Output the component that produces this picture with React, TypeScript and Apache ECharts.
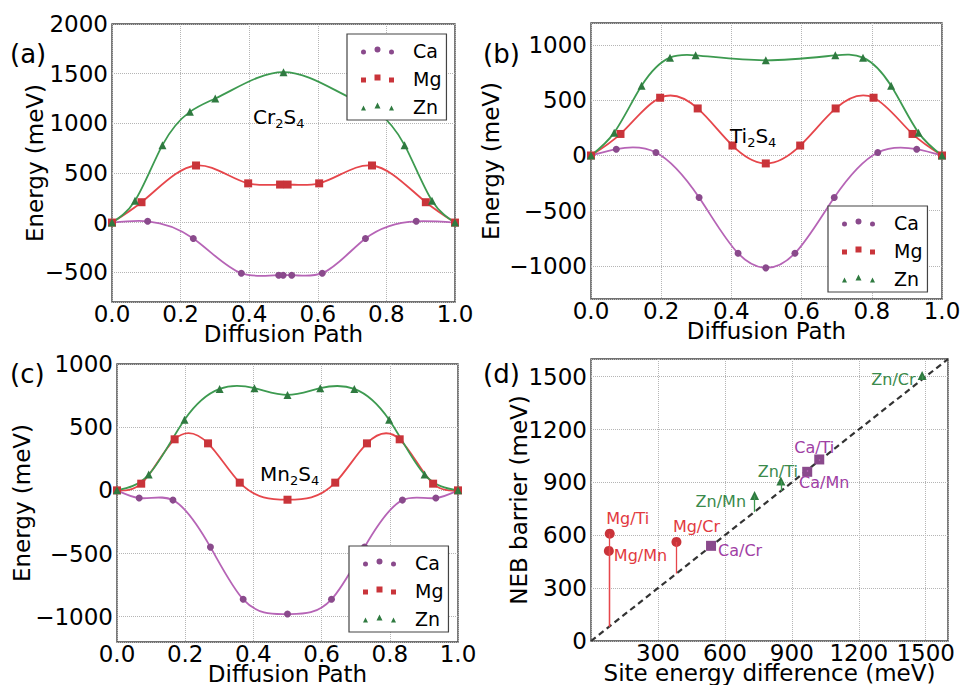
import React, { useEffect, useRef } from 'react';
import * as echarts from 'echarts';

const FONT = 'DejaVu Sans';

// ---------- Panel (a): Cr2S4 ----------
const aCaX = [0, 0.104, 0.237, 0.377, 0.486, 0.499, 0.524, 0.613, 0.739, 0.887, 1.0];
const aCaY = [0, 13, -160, -510, -530, -530, -530, -510, -160, 13, 0];
const aMgX = [0, 0.086, 0.245, 0.397, 0.49, 0.512, 0.604, 0.758, 0.915, 1.0];
const aMgY = [0, 205, 575, 395, 383, 383, 395, 575, 205, 0];
const aZnX = [0, 0.067, 0.147, 0.227, 0.301, 0.5, 0.699, 0.773, 0.853, 0.933, 1.0];
const aZnY = [0, 220, 780, 1115, 1250, 1515, 1250, 1115, 780, 220, 0];

// ---------- Panel (b): Ti2S4 ----------
const bCaX = [0, 0.072, 0.185, 0.308, 0.419, 0.498, 0.581, 0.693, 0.817, 0.928, 1.0];
const bCaY = [0, 57, 27, -381, -886, -1018, -886, -381, 27, 57, 0];
const bMgX = [0, 0.084, 0.197, 0.304, 0.403, 0.498, 0.596, 0.697, 0.805, 0.916, 1.0];
const bMgY = [0, 195, 523, 426, 90, -72, 90, 426, 523, 195, 0];
const bZnX = [0, 0.066, 0.144, 0.225, 0.298, 0.498, 0.696, 0.775, 0.855, 0.933, 1.0];
const bZnY = [0, 207, 631, 886, 907, 862, 907, 886, 631, 207, 0];

// ---------- Panel (c): Mn2S4 ----------
const cCaX = [0, 0.065, 0.164, 0.274, 0.37, 0.5, 0.629, 0.726, 0.837, 0.935, 1.0];
const cCaY = [0, -61, -77, -449, -862, -979, -862, -449, -77, -61, 0];
const cMgX = [0, 0.071, 0.169, 0.267, 0.36, 0.5, 0.64, 0.733, 0.829, 0.927, 1.0];
const cMgY = [0, 53, 404, 372, 61, -74, 61, 372, 404, 53, 0];
const cZnX = [0, 0.093, 0.198, 0.301, 0.403, 0.5, 0.596, 0.696, 0.798, 0.902, 1.0];
const cZnY = [0, 125, 559, 803, 809, 755, 809, 803, 559, 125, 0];

// ---------- Panel (d): NEB barrier vs site energy difference ----------
const dMgNames = ['Mg/Ti', 'Mg/Mn', 'Mg/Cr'];
const dMgX = [84, 80, 383];
const dMgY = [609, 511, 562];
const dZnNames = ['Zn/Mn', 'Zn/Ti', 'Zn/Cr'];
const dZnX = [733, 851, 1484];
const dZnY = [826, 908, 1506];
const dCaNames = ['Ca/Ti', 'Ca/Mn', 'Ca/Cr'];
const dCaX = [1023, 969, 538];
const dCaY = [1030, 960, 540];
const dDiagonal = [[0, 0], [1600, 1600]];

const ELEMENTS = ['Ca', 'Mg', 'Zn'];

// ---------- styling ----------
const COL: Record<string, { mark: string; line: string; text: string }> = {
  Ca: { mark: '#8a4a8c', line: '#b664b6', text: '#a040a4' },
  Mg: { mark: '#c9343a', line: '#e6464b', text: '#e23a3f' },
  Zn: { mark: '#2f7a40', line: '#3d9a50', text: '#3a8a4c' },
};
// panels (a)-(c)
const SYMBOL: Record<string, string> = { Ca: 'circle', Mg: 'rect', Zn: 'triangle' };
const SYMSIZE: Record<string, number> = { Ca: 7, Mg: 8, Zn: 8 };
// panel (d)
const D_SYMBOL: Record<string, string> = { Ca: 'rect', Mg: 'circle', Zn: 'triangle' };
const D_SYMSIZE: Record<string, number> = { Ca: 10, Mg: 10, Zn: 9 };

const ICON: Record<string, string> = {
  Ca: 'path://M0,5.5a2.5,2.5 0 1,0 5,0a2.5,2.5 0 1,0 -5,0Z M13.5,3a3,3 0 1,0 6,0a3,3 0 1,0 -6,0Z M28,5.5a2.5,2.5 0 1,0 5,0a2.5,2.5 0 1,0 -5,0Z',
  Mg: 'path://M0,3L5,3L5,8L0,8Z M13.5,0L19.5,0L19.5,6L13.5,6Z M28,3L33,3L33,8L28,8Z',
  Zn: 'path://M0,8L5,8L2.5,3Z M13.5,6L19.5,6L16.5,0Z M28,8L33,8L30.5,3Z',
};

// label placements for panel (d)
const D_LABEL: Record<string, { position: string; offset: number[] }> = {
  'Mg/Ti': { position: 'top', offset: [18, 2] },
  'Mg/Mn': { position: 'right', offset: [-4, 5] },
  'Mg/Cr': { position: 'top', offset: [20, 2] },
  'Ca/Cr': { position: 'right', offset: [-2, 5] },
  'Zn/Mn': { position: 'left', offset: [0, 6] },
  'Zn/Ti': { position: 'top', offset: [-3, 7] },
  'Ca/Ti': { position: 'top', offset: [-5, 5] },
  'Ca/Mn': { position: 'bottom', offset: [17, -6] },
  'Zn/Cr': { position: 'left', offset: [2, 4] },
};

const zip = (xs: number[], ys: number[]) => xs.map((x, i) => [x, ys[i]]);
const minus = (v: number) => (v < 0 ? '\u2212' + Math.abs(v) : String(v));

// Slopes of a natural cubic spline through the given knots (used only to draw
// the curve between the data points as cubic Bezier segments).
function splineSlopes(xs: number[], ys: number[]): number[] {
  const n = xs.length;
  const h: number[] = [];
  for (let i = 0; i < n - 1; i++) h.push(xs[i + 1] - xs[i]);
  const M = new Array(n).fill(0);
  if (n > 2) {
    const a: number[] = [], b: number[] = [], c: number[] = [], d: number[] = [];
    for (let i = 1; i < n - 1; i++) {
      a.push(h[i - 1]);
      b.push(2 * (h[i - 1] + h[i]));
      c.push(h[i]);
      d.push(6 * ((ys[i + 1] - ys[i]) / h[i] - (ys[i] - ys[i - 1]) / h[i - 1]));
    }
    const m = b.length;
    for (let i = 1; i < m; i++) {
      const w = a[i] / b[i - 1];
      b[i] -= w * c[i - 1];
      d[i] -= w * d[i - 1];
    }
    const sol = new Array(m).fill(0);
    sol[m - 1] = d[m - 1] / b[m - 1];
    for (let i = m - 2; i >= 0; i--) sol[i] = (d[i] - c[i] * sol[i + 1]) / b[i];
    for (let i = 0; i < m; i++) M[i + 1] = sol[i];
  }
  const s: number[] = [];
  for (let i = 0; i < n - 1; i++) {
    s.push((ys[i + 1] - ys[i]) / h[i] - (h[i] * (2 * M[i] + M[i + 1])) / 6);
  }
  const k = n - 2;
  s.push((ys[k + 1] - ys[k]) / h[k] + (h[k] * (M[k] + 2 * M[k + 1])) / 6);
  return s;
}

const tickText = { fontFamily: FONT, fontSize: 23, color: '#000' };
const xTickText = { ...tickText, lineHeight: 18 };
const nameText = { ...tickText, lineHeight: 20 };
const yNameText = { ...tickText, lineHeight: 18 };
const splitLine = { show: true, lineStyle: { color: '#b5b5b5', type: 'dotted', width: 1 } };

function pathXAxis(gridIndex: number, nameGap: number) {
  return {
    type: 'value', gridIndex, min: 0, max: 1, interval: 0.2,
    name: 'Diffusion Path', nameLocation: 'middle', nameGap, nameMoveOverlap: false,
    nameTextStyle: { ...nameText },
    axisLine: { show: false }, axisTick: { show: false },
    axisLabel: { ...xTickText, margin: 3, formatter: (v: number) => v.toFixed(1) },
    splitLine,
  };
}

function energyYAxis(gridIndex: number, min: number, max: number, nameGap: number, showMin: boolean, showMax: boolean) {
  return {
    type: 'value', gridIndex, min, max, splitNumber: 5,
    name: 'Energy (meV)', nameLocation: 'middle', nameGap, nameMoveOverlap: false,
    nameTextStyle: { ...yNameText },
    axisLine: { show: false }, axisTick: { show: false },
    axisLabel: { ...tickText, margin: 4, showMinLabel: showMin, showMaxLabel: showMax, formatter: minus },
    splitLine,
  };
}

function curveSeries(idx: number, el: string, xs: number[], ys: number[]) {
  const slopes = splineSlopes(xs, ys);
  return {
    type: 'custom', name: el + ' curve ' + idx, xAxisIndex: idx, yAxisIndex: idx,
    coordinateSystem: 'cartesian2d', data: zip(xs, ys), encode: { x: 0, y: 1 },
    silent: true, z: 2,
    renderItem: (params: any, api: any) => {
      const i = params.dataIndex;
      if (i >= xs.length - 1) return null;
      const x0 = api.value(0), y0 = api.value(1);
      const x1 = xs[i + 1], y1 = ys[i + 1];
      const hh = (x1 - x0) / 3;
      const p0 = api.coord([x0, y0]);
      const p1 = api.coord([x1, y1]);
      const c0 = api.coord([x0 + hh, y0 + hh * slopes[i]]);
      const c1 = api.coord([x1 - hh, y1 - hh * slopes[i + 1]]);
      return {
        type: 'bezierCurve',
        shape: { x1: p0[0], y1: p0[1], x2: p1[0], y2: p1[1], cpx1: c0[0], cpy1: c0[1], cpx2: c1[0], cpy2: c1[1] },
        style: { stroke: COL[el].line, lineWidth: 1.8, fill: 'none' },
      };
    },
  };
}

function pathSeries(idx: number, data: Record<string, [number[], number[]]>) {
  const out: any[] = [];
  ELEMENTS.forEach((el) => {
    const [xs, ys] = data[el];
    out.push(curveSeries(idx, el, xs, ys));
  });
  ELEMENTS.forEach((el) => {
    const [xs, ys] = data[el];
    out.push({
      type: 'scatter', name: el, xAxisIndex: idx, yAxisIndex: idx,
      data: zip(xs, ys), symbol: SYMBOL[el], symbolSize: SYMSIZE[el],
      itemStyle: { color: COL[el].mark, opacity: 1 }, z: 3,
    });
  });
  return out;
}

function dSeries(el: string, names: string[], xs: number[], ys: number[]) {
  return {
    type: 'scatter', name: el + ' NEB', xAxisIndex: 3, yAxisIndex: 3,
    symbol: D_SYMBOL[el], symbolSize: D_SYMSIZE[el],
    itemStyle: { color: COL[el].mark, opacity: 1 }, z: 4,
    data: names.map((n, i) => ({
      name: n, value: [xs[i], ys[i]],
      label: {
        show: true, formatter: n, position: D_LABEL[n].position, offset: D_LABEL[n].offset,
        distance: 4, color: COL[el].text, fontFamily: FONT, fontSize: 16,
      },
    })),
    markLine: {
      silent: true, symbol: ['none', 'none'], label: { show: false },
      lineStyle: { color: COL[el].line, width: 1.3, type: 'solid' },
      data: names.map((n, i) => [{ coord: [xs[i], ys[i]] }, { coord: [xs[i], xs[i]] }]),
    },
  };
}

function legend(left: number, top: number) {
  return {
    left, top, orient: 'vertical', itemWidth: 33, itemHeight: 8, itemGap: 7,
    padding: [6, 5, 3, 14], backgroundColor: '#fff', borderColor: '#444', borderWidth: 1.2,
    borderRadius: 0, selectedMode: false,
    textStyle: { fontFamily: FONT, fontSize: 19, color: '#000', lineHeight: 21, padding: [0, 0, 0, 14] },
    data: ELEMENTS.map((el) => ({ name: el, icon: ICON[el] })),
  };
}

function formula(left: number, top: number, a: string, b: string) {
  return {
    type: 'text', left, top, z: 10,
    style: {
      text: `{m|${a}}{s|2}{m|${b}}{s|4}`,
      fill: '#000',
      rich: {
        m: { fontFamily: FONT, fontSize: 20, lineHeight: 26, verticalAlign: 'middle', fill: '#000' },
        s: { fontFamily: FONT, fontSize: 13, lineHeight: 26, verticalAlign: 'bottom', fill: '#000' },
      },
    },
  };
}

function panelLabel(left: number, top: number, t: string) {
  return { type: 'text', left, top, z: 10, style: { text: t, fontFamily: FONT, fontSize: 26, fill: '#000' } };
}

export default function App() {
  const ref = useRef<HTMLDivElement>(null);
  useEffect(() => {
    if (!ref.current) return;
    const chart = echarts.init(ref.current, null, { renderer: 'svg' });
    const gridBase = { show: true, borderColor: '#444', borderWidth: 1.4, backgroundColor: 'transparent', containLabel: false, outerBoundsMode: 'none' };
    const option: any = {
      animation: false,
      backgroundColor: '#fff',
      textStyle: { fontFamily: FONT },
      grid: [
        { ...gridBase, left: 112, top: 24, width: 343, height: 278 },
        { ...gridBase, left: 591, top: 23, width: 351, height: 276 },
        { ...gridBase, left: 117, top: 364, width: 341, height: 278 },
        { ...gridBase, left: 591, top: 359, width: 357, height: 282 },
      ],
      xAxis: [
        pathXAxis(0, 22),
        pathXAxis(1, 22),
        pathXAxis(2, 22),
        {
          type: 'value', gridIndex: 3, min: 0, max: 1600, splitNumber: 5,
          name: 'Site energy difference (meV)', nameLocation: 'middle', nameGap: 22, nameMoveOverlap: false,
          nameTextStyle: { ...nameText },
          axisLine: { show: false }, axisTick: { show: false },
          axisLabel: { ...xTickText, margin: 3, showMinLabel: false, showMaxLabel: false, formatter: (v: number) => String(v) },
          splitLine,
        },
      ],
      yAxis: [
        energyYAxis(0, -800, 2000, 68, false, true),
        energyYAxis(1, -1300, 1200, 91, false, false),
        energyYAxis(2, -1200, 1000, 86, false, true),
        {
          type: 'value', gridIndex: 3, min: 0, max: 1600, splitNumber: 5,
          name: 'NEB barrier (meV)', nameLocation: 'middle', nameGap: 63, nameMoveOverlap: false,
          nameTextStyle: { ...yNameText },
          axisLine: { show: false }, axisTick: { show: false },
          axisLabel: { ...tickText, margin: 4, showMinLabel: true, showMaxLabel: false, formatter: (v: number) => String(v) },
          splitLine,
        },
      ],
      legend: [legend(347, 34), legend(828, 206), legend(349, 546)],
      series: [
        ...pathSeries(0, { Ca: [aCaX, aCaY], Mg: [aMgX, aMgY], Zn: [aZnX, aZnY] }),
        ...pathSeries(1, { Ca: [bCaX, bCaY], Mg: [bMgX, bMgY], Zn: [bZnX, bZnY] }),
        ...pathSeries(2, { Ca: [cCaX, cCaY], Mg: [cMgX, cMgY], Zn: [cZnX, cZnY] }),
        {
          type: 'line', name: 'diagonal', xAxisIndex: 3, yAxisIndex: 3, data: dDiagonal,
          showSymbol: false, symbol: 'none', silent: true, z: 2,
          lineStyle: { color: '#333', width: 2.2, type: [6, 4] },
        },
        dSeries('Mg', dMgNames, dMgX, dMgY),
        dSeries('Zn', dZnNames, dZnX, dZnY),
        dSeries('Ca', dCaNames, dCaX, dCaY),
      ],
      graphic: [
        panelLabel(10, 41, '(a)'),
        panelLabel(483, 41, '(b)'),
        panelLabel(10, 361, '(c)'),
        panelLabel(483, 361, '(d)'),
        formula(253, 107, 'Cr', 'S'),
        formula(730, 126, 'Ti', 'S'),
        formula(260, 464, 'Mn', 'S'),
      ],
    };
    chart.setOption(option);
    return () => chart.dispose();
  }, []);
  return <div ref={ref} style={{ position: 'fixed', left: 0, top: 0, width: 960, height: 685, background: '#fff' }} />;
}
